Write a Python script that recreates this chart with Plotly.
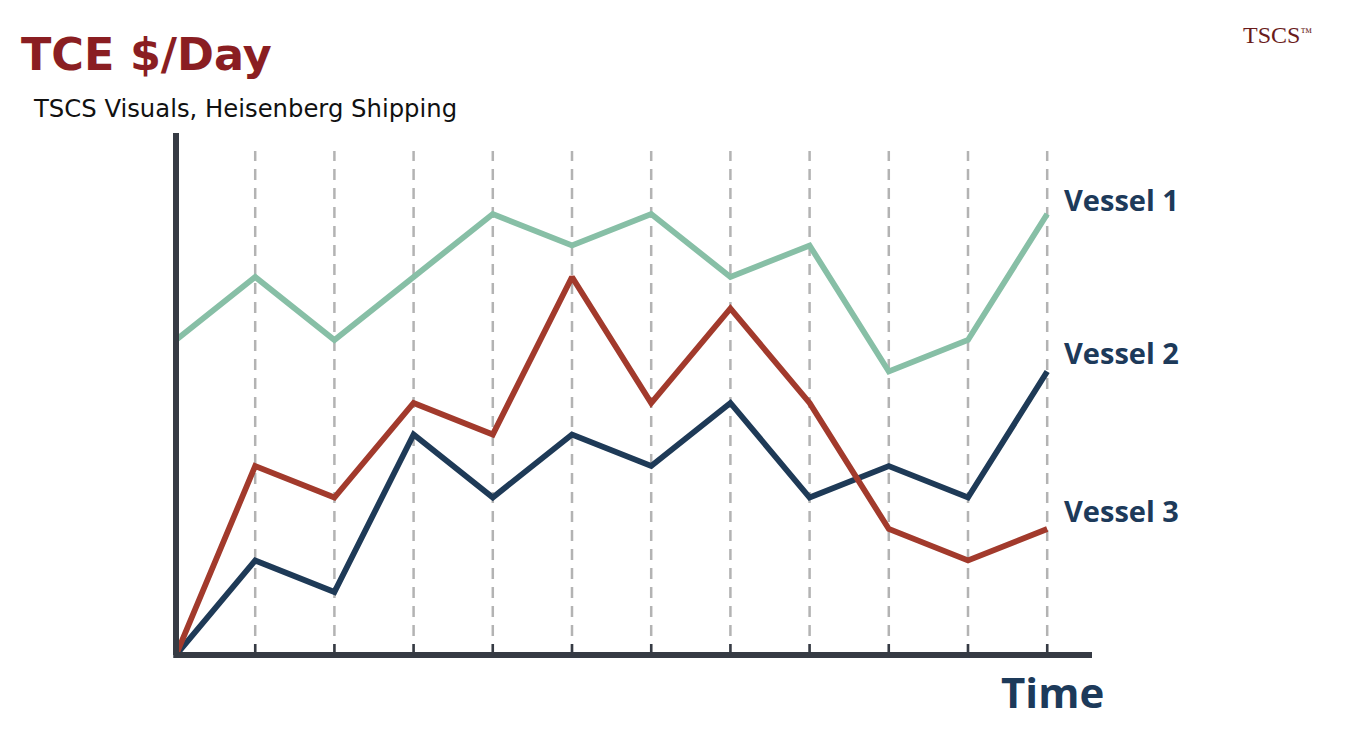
import plotly.graph_objects as go

# ---- data ----
periods = list(range(12))
vessel1 = [10, 12, 10, 12, 14, 13, 14, 12, 13, 9, 10, 14]
vessel2 = [0, 3, 2, 7, 5, 7, 6, 8, 5, 6, 5, 9]
vessel3 = [0, 6, 5, 8, 7, 12, 8, 11, 8, 4, 3, 4]
series_names = ["Vessel 1", "Vessel 2", "Vessel 3"]
series_colors = ["#87bfa6", "#1e3a57", "#a23a2c"]
grid_positions = list(range(1, 12))

NAVY = "#1d3a5a"
AXIS = "#363b44"

W, H = 1354, 750
L, R, T, B = 176, 262, 133, 95
plot_w = W - L - R
plot_h = H - T - B
unit_x = 79.2
unit_y = 31.5


def px_to_paper(px, py):
    return (px - L) / plot_w, (H - B - py) / plot_h


fig = go.Figure()

# dashed vertical guides
for gx in grid_positions:
    fig.add_shape(type="line", x0=gx, x1=gx, y0=0, y1=16, xref="x", yref="y",
                  line=dict(color="#b3b3b3", width=2.5, dash="11px,8px"), layer="below")
    fig.add_shape(type="line", x0=gx, x1=gx, y0=0, y1=0.35, xref="x", yref="y",
                  line=dict(color=AXIS, width=2.5), layer="below")

data = [vessel1, vessel2, vessel3]
for i in range(3):
    fig.add_trace(go.Scatter(x=periods, y=data[i], mode="lines", name=series_names[i],
                             line=dict(color=series_colors[i], width=5.8),
                             showlegend=False, hoverinfo="skip"))

# axes lines
fig.add_shape(type="line", xref="paper", yref="paper", x0=0, x1=0, y0=0, y1=1,
              line=dict(color=AXIS, width=6))
fig.add_shape(type="line", xref="paper", yref="paper", x0=-0.003, x1=1, y0=0, y1=0,
              line=dict(color=AXIS, width=6))

# series labels
label_y = [vessel1[-1] + 0.45, vessel2[-1] + 0.6, vessel3[-1] + 0.6]
for name, ly in zip(series_names, label_y):
    fig.add_annotation(x=periods[-1], y=ly, xref="x", yref="y", text="<b>" + name + "</b>",
                       showarrow=False, xanchor="left", xshift=15, yanchor="middle",
                       font=dict(family="Open Sans", size=29, color=NAVY))

# axis title
fig.add_annotation(x=1, y=0, xref="paper", yref="paper", text="<b>Time</b>", showarrow=False,
                   xanchor="right", yanchor="top", xshift=14, yshift=-6,
                   font=dict(family="Open Sans", size=42, color=NAVY))

# header texts (pixel positions converted to paper)
tx, ty = px_to_paper(19, 27)
fig.add_annotation(x=tx, y=ty, xref="paper", yref="paper", text="<b>TCE $/Day</b>",
                   showarrow=False, xanchor="left", yanchor="top",
                   font=dict(family="DejaVu Sans", size=44.5, color="#8a1e22"))
sx, sy = px_to_paper(31, 92)
fig.add_annotation(x=sx, y=sy, xref="paper", yref="paper",
                   text="TSCS Visuals, Heisenberg Shipping",
                   showarrow=False, xanchor="left", yanchor="top",
                   font=dict(family="DejaVu Sans", size=24.3, color="#111111"))
lx, ly2 = px_to_paper(1241, 20)
fig.add_annotation(x=lx, y=ly2, xref="paper", yref="paper",
                   text="TSCS<span style='font-size:17px'><sup>™</sup></span>",
                   showarrow=False, xanchor="left", yanchor="top",
                   font=dict(family="Liberation Serif", size=24, color="#6a1b1b"))

fig.update_layout(
    width=W, height=H,
    margin=dict(l=L, r=R, t=T, b=B),
    paper_bgcolor="white", plot_bgcolor="rgba(0,0,0,0)",
    xaxis=dict(range=[0, plot_w / unit_x], visible=False, fixedrange=True),
    yaxis=dict(range=[0, plot_h / unit_y], visible=False, fixedrange=True),
)

fig.write_html("out.html", config={"displayModeBar": False},
               post_script="document.body.style.margin='0';")
